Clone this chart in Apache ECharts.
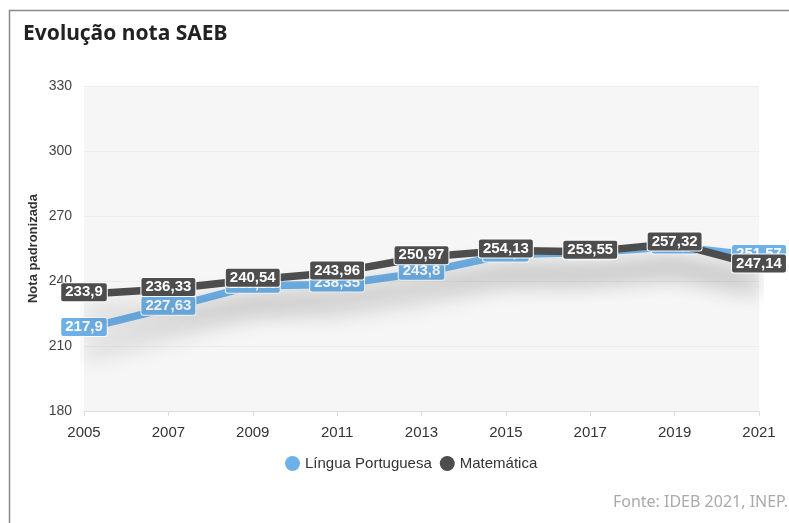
<!DOCTYPE html>
<html><head><meta charset="utf-8">
<script src="https://cdn.jsdelivr.net/npm/echarts@6/dist/echarts.min.js"></script>
<style>html,body{margin:0;padding:0;background:#fff}#c{width:789px;height:523px}</style>
</head><body><div id="c"></div>
<script>
const years = ['2005','2007','2009','2011','2013','2015','2017','2019','2021'];
const portugues = [217.9, 227.63, 237.84, 238.35, 243.8, 252.2, 253.1, 255.9, 251.57];
const matematica = [233.9, 236.33, 240.54, 243.96, 250.97, 254.13, 253.55, 257.32, 247.14];
const yTicks = { min: 180, max: 330, interval: 30 };
const seriesNames = ['Língua Portuguesa', 'Matemática'];

const fmt = p => String(p.value).replace('.', ',');
const chart = echarts.init(document.getElementById('c'), null, {renderer:'canvas'});
function mkSeries(name, data, color, z) {
  return {
    name, type: 'line', data, z,
    symbol: 'circle', symbolSize: 4,
    itemStyle: { color },
    lineStyle: { width: 7.5, color, shadowBlur: 24, shadowColor: 'rgba(0,0,0,0.3)', shadowOffsetY: 22 },
    label: {
      show: true, position: 'inside', offset: [0, -2], formatter: fmt,
      color: '#fff', fontFamily: 'Liberation Sans, Arial', fontWeight: 'bold', fontSize: 15,
      backgroundColor: color, padding: [2, 4, 1, 4], borderColor: '#fff', borderWidth: 1, borderRadius: 2
    },
    emphasis: { disabled: true }
  };
}
chart.setOption({
  animation: false,
  title: { text: 'Evolução nota SAEB', left: 18, top: 19,
    textStyle: { fontFamily: 'Noto Sans', fontWeight: 'bold', fontSize: 21, color: '#222' } },
  legend: { data: seriesNames, bottom: 47, left: 280, icon: 'circle', itemWidth: 15, itemHeight: 15, itemGap: 8,
    textStyle: { fontFamily: 'Liberation Sans Narrow, Liberation Sans', fontSize: 15, color: '#333' } },
  grid: { left: 84, right: 30, top: 86, bottom: 112, show: true, backgroundColor: '#f6f6f6', borderWidth: 0 },
  xAxis: { type: 'category', data: years, boundaryGap: false,
    axisLine: { lineStyle: { color: '#ddd' } }, axisTick: { show: true, lineStyle: { color: '#ddd' } },
    axisLabel: { fontFamily: 'Liberation Sans Narrow, Liberation Sans', fontSize: 15, color: '#333', margin: 14 } },
  yAxis: { type: 'value', min: yTicks.min, max: yTicks.max, interval: yTicks.interval,
    name: 'Nota padronizada', nameLocation: 'middle', nameGap: 44, nameMoveOverlap: false,
    nameTextStyle: { fontFamily: 'Liberation Sans', fontWeight: 'bold', fontSize: 13, color: '#333' },
    axisLine: { show: false }, axisTick: { show: false },
    axisLabel: { fontFamily: 'Liberation Sans Narrow, Liberation Sans', fontSize: 14, color: '#444', margin: 12 },
    splitLine: { lineStyle: { color: '#ececec' } } },
  series: [
    mkSeries(seriesNames[0], portugues, '#6eb1e8', 2),
    mkSeries(seriesNames[1], matematica, '#4d4d4d', 3)
  ],
  graphic: [
    { type: 'rect', left: 7, top: 8, shape: { width: 800, height: 530 }, style: { fill: 'none', stroke: '#888', lineWidth: 1.5 }, z: 100 },
    { type: 'text', right: 1, top: 494, style: { text: 'Fonte: IDEB 2021, INEP.', fill: '#aaa', fontFamily: 'Noto Sans', fontSize: 16 } }
  ]
});
</script></body></html>
